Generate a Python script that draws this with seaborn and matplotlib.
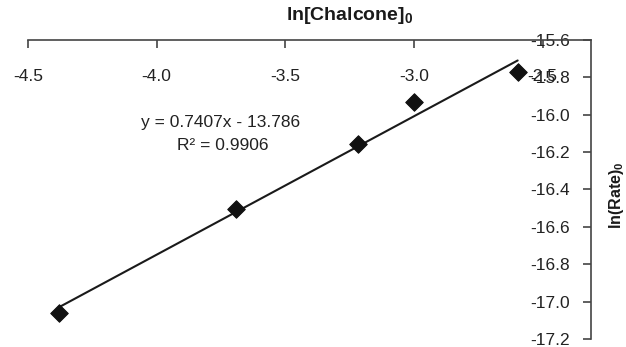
import matplotlib
matplotlib.use("Agg")
import matplotlib.pyplot as plt
import seaborn as sns
import numpy as np
import pandas as pd

# Data
ln_chalcone = [-4.378, -3.692, -3.219, -2.999, -2.597]
ln_rate = [-17.06, -16.505, -16.157, -15.934, -15.771]
slope = 0.7407
intercept = -13.786
r2 = 0.9906
x_ticks = [-4.5, -4.0, -3.5, -3.0, -2.5]
y_ticks = [-15.6, -15.8, -16.0, -16.2, -16.4, -16.6, -16.8, -17.0, -17.2]

sns.set_theme(style="white")
plt.rcParams['font.family'] = ['Liberation Sans', 'DejaVu Sans']
plt.rcParams['mathtext.fontset'] = 'custom'
plt.rcParams['mathtext.rm'] = 'Liberation Sans'
plt.rcParams['mathtext.bf'] = 'Liberation Sans:bold'

df = pd.DataFrame({'x': ln_chalcone, 'y': ln_rate})
fit_x = np.array([min(ln_chalcone), max(ln_chalcone)])
fit_df = pd.DataFrame({'x': fit_x, 'y': slope * fit_x + intercept})

fig = plt.figure(figsize=(6.26, 3.47), dpi=100)
ax = fig.add_axes([28/626, 1-339/347, (591-28)/626, (339-40)/347])

sns.lineplot(data=fit_df, x='x', y='y', ax=ax, color='#1a1a1a', linewidth=1.5)
sns.scatterplot(data=df, x='x', y='y', ax=ax, marker='D', s=80, color='#111111',
                edgecolor='#111111', zorder=3)

ax.set_xlim(-4.5, -2.312)
ax.set_ylim(-17.2, -15.6)
ax.set_xticks(x_ticks)
ax.set_xticklabels([f"{v:.1f}" for v in x_ticks])
ax.set_yticks(y_ticks)
ax.set_yticklabels([f"{v:.1f}" for v in y_ticks])
ax.set_xlabel('')
ax.set_ylabel('')

spine_c = '#444444'
ax.spines['top'].set_visible(False)
ax.spines['right'].set_visible(False)
ax.spines['bottom'].set_position(('axes', 1.0))
ax.spines['left'].set_position(('axes', 1.0))
for s in ['bottom', 'left']:
    ax.spines[s].set_color(spine_c)
    ax.spines[s].set_linewidth(1.2)

ax.tick_params(axis='x', bottom=True, top=False, direction='out', length=6,
               width=1.2, color=spine_c, labelsize=12.5, pad=15, labelcolor='#222222')
ax.tick_params(axis='y', left=True, right=False, direction='out', length=6,
               width=1.2, color=spine_c, labelsize=12.5, pad=9, labelcolor='#222222')

ax.text((350-28)/563, 1 + 25/299, r'ln[Chalcone]$_\mathbf{0}$', transform=ax.transAxes,
        ha='center', va='center', fontsize=14, fontweight='bold', color='#1a1a1a')
ax.text((617-28)/563, (339-195)/299, r'ln(Rate)$_\mathbf{0}$', transform=ax.transAxes,
        ha='center', va='center', fontsize=11.5, fontweight='bold', color='#1a1a1a',
        rotation=90)

ax.text((221-28)/563, (339-123)/299, f"y = {slope}x - {abs(intercept)}",
        transform=ax.transAxes, ha='center', va='center', fontsize=12.5, color='#222222')
ax.text((223-28)/563, (339-145)/299, f"R² = {r2}",
        transform=ax.transAxes, ha='center', va='center', fontsize=12.5, color='#222222')

fig.savefig('out.png', dpi=100)
